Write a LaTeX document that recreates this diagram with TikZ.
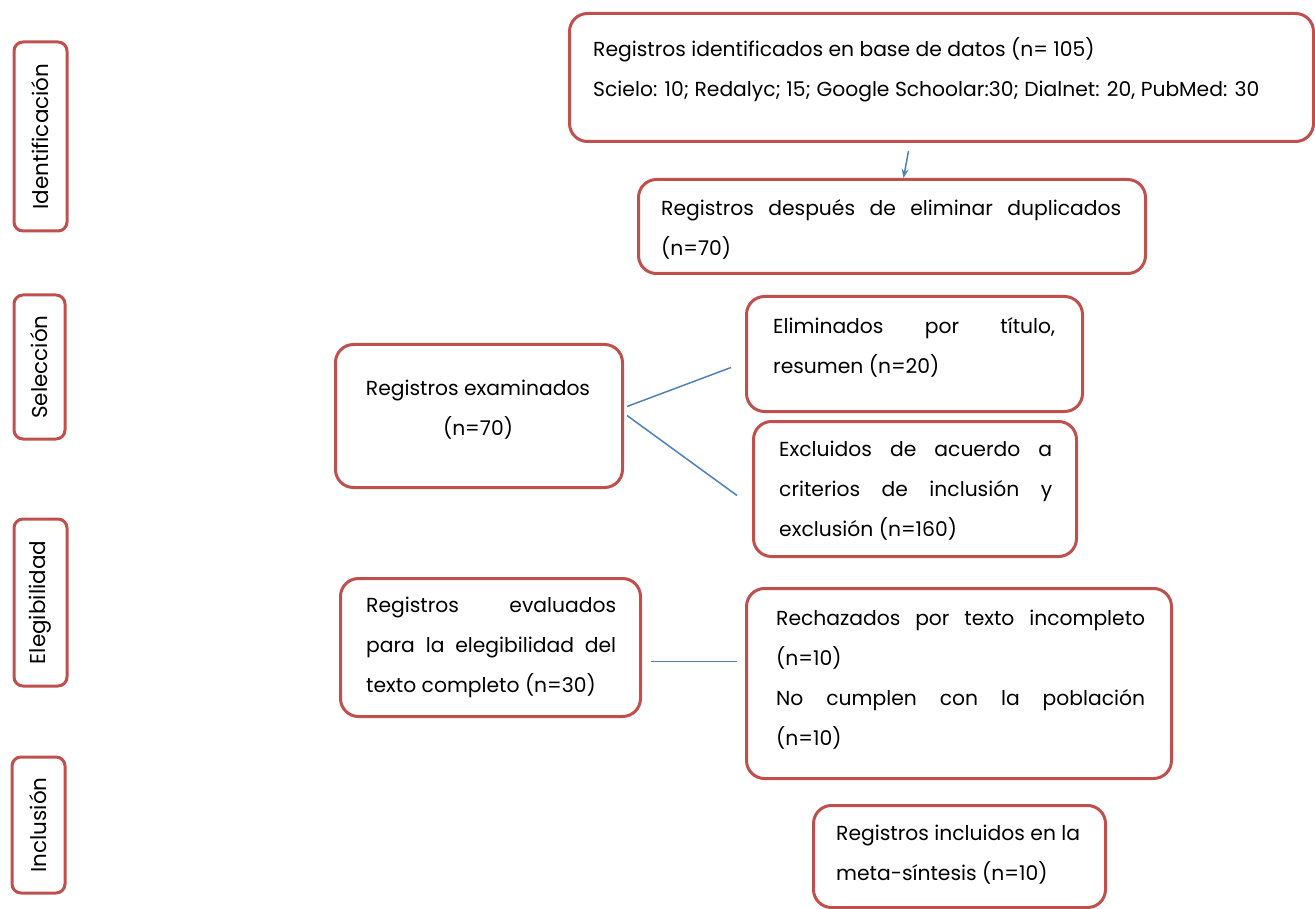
\documentclass[tikz,border=0pt]{standalone}
\usepackage{fontspec}
\setmainfont{Poppins}
\usetikzlibrary{arrows.meta}
\definecolor{boxred}{HTML}{C0504D}
\definecolor{lineblue}{HTML}{4F81BD}
\begin{document}
\begin{tikzpicture}[x=1pt,y=-1pt,
  box/.style={draw=boxred, line width=3pt, rounded corners=18pt, fill=white, inner sep=0pt, anchor=north west},
  side/.style={draw=boxred, line width=3pt, rounded corners=9pt, inner sep=0pt, rotate=90, font=\fontsize{21.5}{24}\selectfont},
  txt/.style={inner sep=0pt, align=left, anchor=west, font=\fontsize{20.3}{40}\selectfont},
  conn/.style={draw=lineblue, line width=1.5pt}]
\useasboundingbox (0,0) rectangle (1315,909);
% boxes
\node[box, minimum width=744, minimum height=128] (ident) at (568,12) {};
\node[box, minimum width=507, minimum height=94] (dup) at (637,178) {};
\node[box, minimum width=287, minimum height=143] (exam) at (334,343) {};
\node[box, minimum width=336, minimum height=115] (elim) at (745,295) {};
\node[box, minimum width=323, minimum height=135] (excl) at (752,420) {};
\node[box, minimum width=300, minimum height=138] (eval) at (339,577) {};
\node[box, minimum width=425, minimum height=190] (rech) at (745,587) {};
\node[box, minimum width=292, minimum height=102] (incl) at (812,804) {};
% side labels
\node[side, minimum width=189, minimum height=53] (s1) at (40.5,136.5) {Identificación};
\node[side, minimum width=144, minimum height=51] (s2) at (39.5,367) {Selección};
\node[side, minimum width=167, minimum height=53] (s3) at (40.5,602.5) {Elegibilidad};
\node[side, minimum width=136, minimum height=53] (s4) at (38.5,825) {Inclusión};
% texts
\node[txt] (t1) at (593,70) {Registros identificados en base de datos (n= 105)\\Scielo: 10; Redalyc; 15; Google Schoolar:30; Dialnet: 20, PubMed: 30};
\node[txt] (t2) at (661,229) {\makebox[460pt][s]{Registros después de eliminar duplicados}\\(n=70)};
\node[txt, align=center, anchor=center] (t3) at (478,410) {Registros examinados\\(n=70)};
\node[txt] (t4) at (773,347) {\makebox[282pt][s]{Eliminados por título,}\\resumen (n=20)};
\node[txt] (t5) at (779,491) {\makebox[273pt][s]{Excluidos de acuerdo a}\\\makebox[273pt][s]{criterios de inclusión y}\\exclusión (n=160)};
\node[txt] (t6) at (366,647) {\makebox[250pt][s]{Registros evaluados}\\\makebox[250pt][s]{para la elegibilidad del}\\texto completo (n=30)};
\node[txt] (t7) at (776,680) {\makebox[369pt][s]{Rechazados por texto incompleto}\\(n=10)\\\makebox[369pt][s]{No cumplen con la población}\\(n=10)};
\node[txt] (t8) at (836,855) {Registros incluidos en la\\meta-síntesis (n=10)};
% connectors
\draw[conn, -{Stealth[length=9pt,width=7pt]}] ([xshift=-33pt,yshift=-8pt]ident.south) -- ([xshift=11.5pt]dup.north);
\draw[conn] ([xshift=3pt,yshift=9.5pt]exam.east) -- ([xshift=-14pt,yshift=-13.5pt]elim.west);
\draw[conn] ([xshift=3pt,yshift=0.5pt]exam.east) -- ([xshift=-15pt,yshift=-6.5pt]excl.west);
\draw[conn] ([xshift=9pt,yshift=-14pt]eval.east) -- ([xshift=-8pt,yshift=22pt]rech.west);
\end{tikzpicture}
\end{document}
